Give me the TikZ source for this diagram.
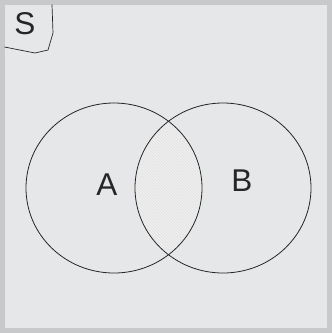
\documentclass[tikz,border=0pt]{standalone}
\usepackage{fontspec}
\setmainfont{Liberation Sans}
\usetikzlibrary{patterns}
\definecolor{bgc}{HTML}{E6E7E8}
\definecolor{bordc}{HTML}{C8C9CA}
\definecolor{lensc}{HTML}{EEEEEE}
\definecolor{hatchc}{HTML}{E2E2E2}
\definecolor{linec}{HTML}{262626}
\tikzset{
  setline/.style={draw=linec, line width=0.8pt},
  lbl/.style={font=\fontsize{31.5}{36}\selectfont, text=linec, inner sep=0pt, anchor=center}
}
\begin{document}
\begin{tikzpicture}[x=1pt,y=-1pt]
\useasboundingbox (0,0) rectangle (332,333);
\fill[bordc] (0,0) rectangle (332,333);
\fill[bgc] (4.5,4.5) rectangle (327,328);
\begin{scope}
  \clip (114,188) ellipse [x radius=88, y radius=85];
  \fill[lensc] (223,188) ellipse [x radius=88, y radius=85];
  \pattern[pattern=north west lines, pattern color=hatchc] (223,188) ellipse [x radius=88, y radius=85];
\end{scope}
\draw[setline] (114,188) ellipse [x radius=88, y radius=85];
\draw[setline] (223,188) ellipse [x radius=88, y radius=85];
\draw[setline, line width=0.7pt] (52,4.5) -- (53,33) -- (48,50) -- (35,53) -- (4.5,47);
\node[lbl] (S) at (25,24) {S};
\node[lbl] (A) at (107,184.5) {A};
\node[lbl] (B) at (242,181) {B};
\end{tikzpicture}
\end{document}
